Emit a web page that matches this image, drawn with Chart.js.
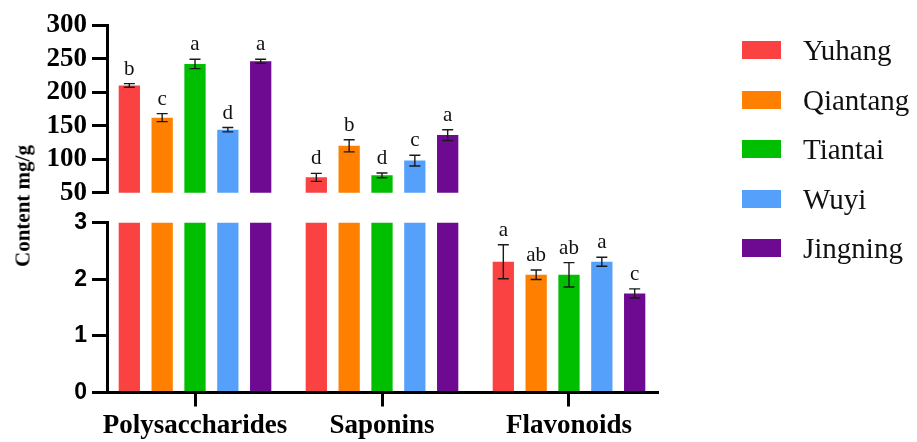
<!DOCTYPE html>
<html>
<head>
<meta charset="utf-8">
<script src="https://cdn.jsdelivr.net/npm/chart.js@4.4.1/dist/chart.umd.min.js"></script>
<style>
  html, body { margin: 0; padding: 0; background: #fff; }
  #wrap { position: relative; width: 917px; height: 442px; overflow: hidden; background: #fff; }
  #botBox { position: absolute; left: 0; top: 200px; width: 917px; height: 242px; z-index: 1; }
  #topBox { position: absolute; left: 0; top: 0; width: 917px; height: 214px; z-index: 2; }
  canvas { display: block; }
  #ytitle {
    position: absolute; left: 23px; top: 206px; z-index: 3;
    transform: translate(-50%, -50%) rotate(-90deg);
    font: bold 21px "Liberation Serif", "Times New Roman", serif;
    white-space: nowrap; color: #000;
  }
  .lg-box { position: absolute; width: 39px; height: 18px; z-index: 3; }
  .lg-text {
    position: absolute; z-index: 3; line-height: 30px; height: 30px;
    font: 29px "Liberation Serif", "Times New Roman", serif; color: #111; white-space: nowrap;
  }
</style>
</head>
<body>
<div id="wrap">
  <div id="botBox"><canvas id="bottom" width="917" height="242"></canvas></div>
  <div id="topBox"><canvas id="top" width="917" height="214"></canvas></div>
  <div id="ytitle">Content mg/g</div>
</div>
<script>
// Compound groups along the x axis
const categories = ['Polysaccharides', 'Saponins', 'Flavonoids'];

// Production regions (one bar series each) and their fill colours
const sites = ['Yuhang', 'Qiantang', 'Tiantai', 'Wuyi', 'Jingning'];
const siteColors = ['#FA4242', '#FF7F00', '#00BE00', '#55A0FA', '#6E0A91'];

// Mean content (mg/g) per region, in category order
const yuhang   = [210, 73, 2.31];
const qiantang = [162, 120, 2.08];
const tiantai  = [242, 76, 2.08];
const wuyi     = [144, 98, 2.31];
const jingning = [246, 136, 1.75];

// Standard deviations
const yuhangSd   = [2.7, 6, 0.30];
const qiantangSd = [6, 9, 0.083];
const tiantaiSd  = [7, 3.5, 0.215];
const wuyiSd     = [3.2, 8, 0.08];
const jingningSd = [3, 8, 0.08];

// Significance letters
const yuhangSig   = ['b', 'd', 'a'];
const qiantangSig = ['c', 'b', 'ab'];
const tiantaiSig  = ['a', 'd', 'ab'];
const wuyiSig     = ['d', 'c', 'a'];
const jingningSig = ['a', 'a', 'c'];

// Tick values for the two segments of the broken y axis
const upperTicks = [50, 100, 150, 200, 250, 300];
const lowerTicks = [0, 1, 2, 3];

const seriesValues = [yuhang, qiantang, tiantai, wuyi, jingning];
const seriesSd = [yuhangSd, qiantangSd, tiantaiSd, wuyiSd, jingningSd];
const seriesSig = [yuhangSig, qiantangSig, tiantaiSig, wuyiSig, jingningSig];
const positions = categories.map((_, i) => i);

// Horizontal extent of the plot (in category units) so both panels line up
const X_MIN = -0.4706, X_MAX = 2.4706;

// Error bars and significance letters, drawn only where the mean falls in the panel's range
const errorBarPlugin = {
  id: 'errorBars',
  afterDatasetsDraw(chart) {
    const { ctx } = chart;
    const y = chart.scales.y;
    ctx.save();
    chart.data.datasets.forEach((ds, i) => {
      const meta = chart.getDatasetMeta(i);
      meta.data.forEach((bar, j) => {
        const v = seriesValues[i][j];
        const e = seriesSd[i][j];
        if (v < y.min || v > y.max) return;
        const x = bar.x;
        const yHi = y.getPixelForValue(v + e);
        const yLo = y.getPixelForValue(v - e);
        ctx.strokeStyle = '#1a1a1a';
        ctx.lineWidth = 1.4;
        ctx.beginPath();
        ctx.moveTo(x, yHi); ctx.lineTo(x, yLo);
        ctx.moveTo(x - 5.5, yHi); ctx.lineTo(x + 5.5, yHi);
        ctx.moveTo(x - 5.5, yLo); ctx.lineTo(x + 5.5, yLo);
        ctx.stroke();
        ctx.fillStyle = '#111';
        ctx.font = '21px "Liberation Serif", "Times New Roman", serif';
        ctx.textAlign = 'center';
        ctx.textBaseline = 'alphabetic';
        ctx.fillText(seriesSig[i][j], x, yHi - 9);
      });
    });
    ctx.restore();
  }
};

function buildDatasets() {
  return sites.map((name, i) => ({
    label: name,
    data: seriesValues[i],
    backgroundColor: siteColors[i],
    borderWidth: 0,
    clip: 0,
    barPercentage: 0.648,
    categoryPercentage: 0.878
  }));
}

function xScale(showLabels) {
  return {
    type: 'linear',
    min: X_MIN,
    max: X_MAX,
    offset: false,
    display: showLabels,
    afterBuildTicks: (s) => { s.ticks = positions.map(v => ({ value: v })); },
    ticks: {
      callback: (v) => categories[Math.round(v)],
      font: { family: '"Liberation Serif", "Times New Roman", serif', weight: 'bold', size: 27 },
      color: '#000',
      padding: 3,
      maxRotation: 0,
      autoSkip: false
    },
    grid: { drawOnChartArea: false, tickLength: 14, lineWidth: 3, color: '#000', offset: false },
    border: { display: true, width: 3, color: '#000' },
    afterFit: (s) => { if (showLabels) s.height = 49.5; }
  };
}

function yScale(tickList, font) {
  return {
    min: tickList[0],
    max: tickList[tickList.length - 1],
    afterBuildTicks: (s) => { s.ticks = tickList.map(v => ({ value: v })); },
    ticks: { font, color: '#000', padding: 5, autoSkip: false },
    grid: { drawOnChartArea: false, tickLength: 15, lineWidth: 3, color: '#000' },
    border: { display: true, width: 3, color: '#000' },
    afterFit: (s) => { s.width = 107; }
  };
}

const common = {
  responsive: false,
  animation: false,
  events: [],
  plugins: { legend: { display: false }, tooltip: { enabled: false } }
};

// Upper panel: 50 - 300
new Chart(document.getElementById('top'), {
  type: 'bar',
  data: { labels: positions, datasets: buildDatasets() },
  options: Object.assign({}, common, {
    layout: { padding: { top: 25, right: 260, bottom: 20, left: 0 } },
    scales: {
      x: xScale(false),
      y: yScale(upperTicks, { family: '"Liberation Serif", "Times New Roman", serif', weight: 'bold', size: 27 })
    }
  }),
  plugins: [errorBarPlugin]
});

// Lower panel: 0 - 3
new Chart(document.getElementById('bottom'), {
  type: 'bar',
  data: { labels: positions, datasets: buildDatasets() },
  options: Object.assign({}, common, {
    layout: { padding: { top: 22.7, right: 260, bottom: 0, left: 0 } },
    scales: {
      x: xScale(true),
      y: yScale(lowerTicks, { family: '"Liberation Sans", Arial, sans-serif', weight: 'bold', size: 23 })
    }
  }),
  plugins: [errorBarPlugin]
});

// Legend
const wrap = document.getElementById('wrap');
const rowCenters = [50, 99.5, 149, 199, 248];
sites.forEach((name, i) => {
  const box = document.createElement('div');
  box.className = 'lg-box';
  box.style.left = '742px';
  box.style.top = (rowCenters[i] - 9) + 'px';
  box.style.background = siteColors[i];
  wrap.appendChild(box);
  const txt = document.createElement('div');
  txt.className = 'lg-text';
  txt.style.left = '803px';
  txt.style.top = (rowCenters[i] - 16) + 'px';
  txt.textContent = name;
  wrap.appendChild(txt);
});
</script>
</body>
</html>
